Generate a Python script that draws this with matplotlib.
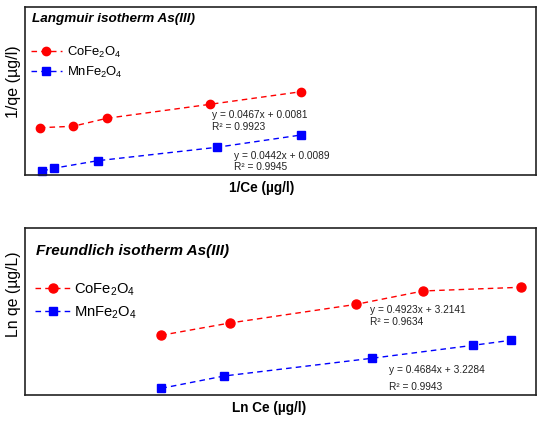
import matplotlib
matplotlib.use("Agg")
import matplotlib.pyplot as plt

plt.rcParams["font.family"] = ["Liberation Sans", "DejaVu Sans"]
plt.rcParams["mathtext.fontset"] = "custom"
plt.rcParams["mathtext.rm"] = "Liberation Sans"
plt.rcParams["mathtext.it"] = "Liberation Sans:italic"
plt.rcParams["mathtext.bf"] = "Liberation Sans:bold"

# Langmuir: 1/Ce vs 1/qe
lang_x_co = [0.0145, 0.047, 0.080, 0.181, 0.270]
lang_y_co = [0.01126, 0.0116, 0.0135, 0.01683, 0.01983]
lang_x_mn = [0.017, 0.028, 0.071, 0.188, 0.270]
lang_y_mn = [0.00095, 0.0016, 0.0034, 0.0066, 0.00952]

# Freundlich: Ln Ce vs Ln qe
freu_x_co = [1.331, 2.003, 3.242, 3.897, 4.850]
freu_y_co = [3.715, 3.862, 4.086, 4.246, 4.290]
freu_x_mn = [1.334, 1.950, 3.395, 4.384, 4.753]
freu_y_mn = [3.080, 3.228, 3.440, 3.595, 3.655]

lbl_co = r"CoFe$_\mathregular{2}$O$_\mathregular{4}$"
lbl_mn = r"MnFe$_\mathregular{2}$O$_\mathregular{4}$"
RED, BLUE = "#ff0000", "#0000ff"
DASH = (0, (4, 3))

W, H = 550, 421
fig = plt.figure(figsize=(W / 100, H / 100), dpi=100)


def box(l, t, r, b):
    return [l / W, 1 - b / H, (r - l) / W, (b - t) / H]


def style(ax):
    ax.set_xticks([]); ax.set_yticks([])
    for s in ax.spines.values():
        s.set_linewidth(1.2); s.set_color("#222222")


# ---- Langmuir
ax1 = fig.add_axes(box(25, 7, 536, 175))
style(ax1)
ax1.set_xlim(0, 0.5); ax1.set_ylim(0, 0.04)
ax1.plot(lang_x_co, lang_y_co, linestyle=DASH, lw=1.0, color=RED, marker="o",
         ms=6, label=lbl_co, clip_on=False)
ax1.plot(lang_x_mn, lang_y_mn, linestyle=DASH, lw=1.0, color=BLUE, marker="s",
         ms=5.3, label=lbl_mn, clip_on=False)
ax1.text(0.0137, 0.911, "Langmuir isotherm As(III)", transform=ax1.transAxes,
         fontsize=9.7, fontweight="bold", style="italic", va="baseline")
ax1.legend(loc="upper left", bbox_to_anchor=(0.011, 0.775), frameon=False,
           fontsize=9.4, handlelength=2.37, handletextpad=0.4,
           labelspacing=0.35, borderpad=0, borderaxespad=0)
ax1.text(0.366, 0.357, "y = 0.0467x + 0.0081", transform=ax1.transAxes,
         fontsize=7.3, va="center", color="#222222")
ax1.text(0.366, 0.286, "R² = 0.9923", transform=ax1.transAxes,
         fontsize=7.3, va="center", color="#222222")
ax1.text(0.4096, 0.115, "y = 0.0442x + 0.0089", transform=ax1.transAxes,
         fontsize=7.3, va="center", color="#222222")
ax1.text(0.4096, 0.0476, "R² = 0.9945", transform=ax1.transAxes,
         fontsize=7.3, va="center", color="#222222")
fig.text(14 / W, 1 - 82 / H, "1/qe (µg/l)", rotation=90, fontsize=11.5,
         ha="center", va="center")
fig.text(262 / W, 1 - 188 / H, "1/Ce (µg/l)", fontsize=9.8, fontweight="bold",
         ha="center", va="center")

# ---- Freundlich
ax2 = fig.add_axes(box(25, 228, 536, 395))
style(ax2)
ax2.set_xlim(0, 5); ax2.set_ylim(3, 5)
ax2.plot(freu_x_co, freu_y_co, linestyle=DASH, lw=1.0, color=RED, marker="o",
         ms=6.5, label=lbl_co, clip_on=False)
ax2.plot(freu_x_mn, freu_y_mn, linestyle=DASH, lw=1.0, color=BLUE, marker="s",
         ms=5.8, label=lbl_mn, clip_on=False)
ax2.text(0.0215, 0.8365, "Freundlich isotherm As(III)", transform=ax2.transAxes,
         fontsize=11, fontweight="bold", style="italic", va="baseline")
ax2.legend(loc="upper left", bbox_to_anchor=(0.02, 0.68), frameon=False,
           fontsize=10.6, handlelength=2.38, handletextpad=0.27,
           labelspacing=0.46, borderpad=0, borderaxespad=0)
ax2.text(0.675, 0.507, "y = 0.4923x + 3.2141", transform=ax2.transAxes,
         fontsize=7.3, va="center", color="#222222")
ax2.text(0.675, 0.435, "R² = 0.9634", transform=ax2.transAxes,
         fontsize=7.3, va="center", color="#222222")
ax2.text(0.713, 0.148, "y = 0.4684x + 3.2284", transform=ax2.transAxes,
         fontsize=7.3, va="center", color="#222222")
ax2.text(0.713, 0.046, "R² = 0.9943", transform=ax2.transAxes,
         fontsize=7.3, va="center", color="#222222")
fig.text(14 / W, 1 - 294 / H, "Ln qe (µg/L)", rotation=90, fontsize=11.3,
         ha="center", va="center")
fig.text(269 / W, 1 - 408 / H, "Ln Ce (µg/l)", fontsize=9.8, fontweight="bold",
         ha="center", va="center")

fig.savefig("out.png", dpi=100)
